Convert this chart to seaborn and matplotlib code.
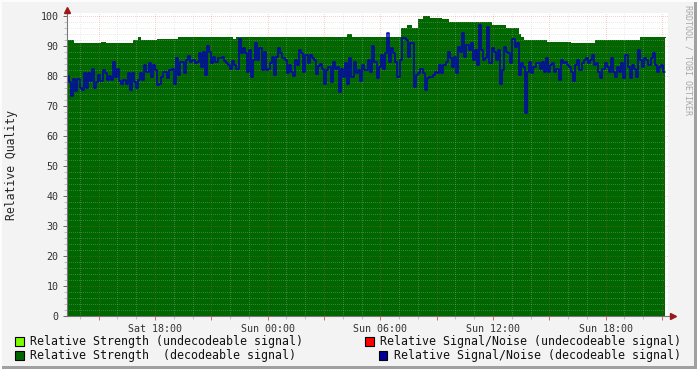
import numpy as np
import pandas as pd
import matplotlib
matplotlib.use("Agg")
import matplotlib.pyplot as plt
import matplotlib.dates as mdates
from matplotlib.patches import Rectangle
import seaborn as sns

# ---------------- data ----------------
start_time = "2007-03-03 13:19"
data_end_time = "2007-03-04 21:10"
axis_end_time = "2007-03-04 21:19"

# Relative Strength (decodeable signal): step changes (hours after start, value)
strength_hours = [0.0, 0.3, 1.8, 2.0, 3.5, 3.8, 3.9, 4.8, 5.9, 8.8, 9.0, 14.9, 15.1,
                  17.8, 18.1, 18.3, 18.7, 18.95, 19.3, 19.9, 20.3, 22.6, 23.3, 24.0,
                  24.1, 24.3, 25.5, 26.8, 28.1, 30.5, 31.85]
strength_values = [92, 91, 91.5, 91, 92, 93, 92, 92.5, 93, 92.5, 93, 94, 93,
                   96, 97, 96, 99, 100, 99.5, 99, 98, 97, 96, 94,
                   93, 92, 91.5, 91, 92, 93, 93]

# Relative Signal/Noise (decodeable signal): equally spaced samples
snr_part1 = [80, 78, 73.3, 79, 75, 79, 76, 75.3, 81, 76, 81, 78.4, 82.2, 76, 78, 80.3,
             78.4, 82, 81, 78.7, 80, 78.7, 84.8, 79.8, 82.5, 78.4, 77.5, 78.7, 77.5, 81,
             75.3, 81, 78, 76, 78.7, 81, 78.7, 83.7, 81.4, 84.2, 79.8, 83.7, 82, 77, 77.5,
             79.8, 81.4, 81.4, 79.2, 82, 82.5, 77.5, 85.9, 80.3, 84.8, 84.8, 81, 85.3, 86.7,
             84.8, 85.3, 84.2, 84.8, 87.6, 83, 88, 80.3, 90, 88, 84.2, 86.4, 84.8, 85.9]
snr_part2 = [85.9, 86.4, 85.1, 84.2, 83.7, 82.5, 85.1, 83.7, 82.5, 92.2, 87.6, 89.2, 87.6,
             81.4, 88.7, 79.8, 85.3, 91.1, 85.3, 89.2, 82, 88, 82, 82.5, 84.2, 86.4, 80.3,
             86.4, 89.2, 87.6, 85.9, 85.3, 80.9, 83.7, 81.4, 80, 85.3, 83.7, 88.7, 87.6,
             81.4, 87, 84.2, 87, 85.9, 85.3, 80.7, 83.3, 84, 82.5, 77.3, 82, 83.1, 78, 84.8,
             82.5, 83.1, 74.8, 82.5, 79.8, 84.2, 77.5, 86.1, 79.8, 84.8, 80.9, 82, 78.4,
             83.7, 82]
snr_part3 = [82, 85.3, 81.4, 90, 84.8, 79.2, 83.1, 87, 82.5, 87.6, 94.2, 84.8, 89.2, 87.6,
             84.8, 79.8, 85.3, 92.6, 92.6, 92, 86.4, 90.9, 90.9, 76.4, 80.3, 80.9, 82.5,
             80.9, 75.3, 79.2, 79.8, 79.8, 80.3, 81.4, 80.9, 83.7, 80.9, 83.7, 84.8, 88,
             85.9, 83.1, 86.4, 80.9, 89.8, 88, 94.2, 86.4, 90.3, 88.7, 90.9, 85.3, 88.7,
             83.7, 97, 88.7, 85.3, 85.9, 96.4, 84.2, 89.2, 88, 85.3, 88.7, 77.5, 82, 89.8,
             88, 87.6, 84.2, 92.2, 89.8, 90.9]
snr_part4 = [80.3, 84.2, 83.1, 67.6, 81.4, 84.8, 80.9, 83.1, 84.2, 84.4, 82.5, 84.8, 81.4,
             85.9, 81.4, 83.7, 84.2, 81.4, 82.5, 78.7, 85.3, 84.2, 84.8, 83.7, 83.1, 81.4,
             78.4, 83.7, 85.3, 82, 84.2, 85.3, 85.9, 84.2, 85.3, 87, 83.7, 84.2, 81.4, 79.2,
             82.5, 84.2, 83.1, 81.4, 85.9, 81.4, 79.8, 83.1, 81.4, 84.2, 79.2, 87, 83.1,
             79.2, 83.7, 82.5, 79.8, 88.7, 85.3, 83.1, 85.9, 85.3, 83.7, 85.9, 87.6, 83.7,
             81.4, 83.1, 83.7, 81.4]
snr_values = snr_part1 + snr_part2 + snr_part3 + snr_part4

legend_labels = ["Relative Strength (undecodeable signal)",
                 "Relative Strength  (decodeable signal)",
                 "Relative Signal/Noise (undecodeable signal)",
                 "Relative Signal/Noise (decodeable signal)"]
legend_colors = ["#7CFC00", "#006600", "#FF0000", "#000099"]

y_ticks = [0, 10, 20, 30, 40, 50, 60, 70, 80, 90, 100]

# ---------------- frames ----------------
t0 = pd.Timestamp(start_time)
t_end = pd.Timestamp(data_end_time)
strength_t = [t0 + pd.Timedelta(hours=h) for h in strength_hours]
df_strength = pd.DataFrame({"time": strength_t, "value": strength_values})

n = len(snr_values)
snr_t = pd.date_range(t0, t_end, periods=n + 1)
df_snr = pd.DataFrame({"time": snr_t, "value": snr_values + [snr_values[-1]]})

# ---------------- style ----------------
sns.set_style("white")
plt.rcParams["font.family"] = ["DejaVu Sans Mono", "DejaVu Sans"]
plt.rcParams["lines.antialiased"] = False

W, H = 697, 369
fig = plt.figure(figsize=(W / 100, H / 100), dpi=100, facecolor="#F3F3F3")
ax = fig.add_axes([67 / W, 1 - 316 / H, (668 - 67) / W, (316 - 13) / H])
ax.set_facecolor("white")

green = "#006600"
ax.fill_between(df_strength["time"], 0, df_strength["value"], step="post",
                color=green, linewidth=0, zorder=1, antialiased=False)
sns.lineplot(data=df_strength, x="time", y="value", drawstyle="steps-post",
             color=green, linewidth=0.5, estimator=None, ax=ax, zorder=1.1)
sns.lineplot(data=df_snr, x="time", y="value", drawstyle="steps-post",
             color="#0000B0", linewidth=1.08, estimator=None, ax=ax, zorder=3,
             antialiased=True, snap=True)

ax.set_xlim(t0, pd.Timestamp(axis_end_time))
ax.set_ylim(0, 101)
ax.set_xlabel("")
ax.set_ylabel("Relative Quality", fontsize=8.3)
ax.yaxis.set_label_coords(-(67 - 18) / (668 - 67), 0.5)

# ticks
ax.set_yticks(y_ticks)
ax.yaxis.set_minor_locator(matplotlib.ticker.MultipleLocator(2))
ax.xaxis.set_major_locator(mdates.HourLocator(byhour=range(0, 24, 3)))
ax.xaxis.set_minor_locator(mdates.HourLocator(interval=1))


def fmt(x, pos=None):
    d = mdates.num2date(x)
    return d.strftime("%a %H:%M") if d.hour % 6 == 0 else ""


ax.xaxis.set_major_formatter(matplotlib.ticker.FuncFormatter(fmt))
ax.tick_params(axis="both", which="major", labelsize=7.2, colors="#333333",
               length=3, width=0.7, pad=3)
ax.tick_params(axis="x", which="major", color="#E06060")
ax.tick_params(axis="y", which="major", color="#666666")
ax.tick_params(axis="both", which="minor", length=2, width=0.5, color="#AAAAAA")
ax.tick_params(axis="x", which="both", direction="out", bottom=True)
ax.tick_params(axis="y", which="both", direction="out", left=True)

# grid above the area, like rrdtool
ax.set_axisbelow(False)
ax.grid(which="minor", color="#C0C0C0", alpha=0.3, linewidth=0.5,
        linestyle=(0, (1.4, 2.0)))
ax.grid(which="major", color="#E05050", alpha=0.28, linewidth=0.5,
        linestyle=(0, (1.4, 2.0)))

for s in ["top", "right"]:
    ax.spines[s].set_visible(False)
for s in ["left", "bottom"]:
    ax.spines[s].set_color("#777777")
    ax.spines[s].set_linewidth(0.8)
    ax.spines[s].set_zorder(4)

# axis arrows
ax.plot([0], [1.01], marker="^", markersize=4, color="#9A1A1A", transform=ax.transAxes,
        clip_on=False, zorder=5, antialiased=True)
ax.plot([0, 0], [1.0, 1.01], color="#777777", lw=0.6, transform=ax.transAxes,
        clip_on=False)
ax.plot([1.0, 1.006], [0, 0], color="#777777", lw=0.6, transform=ax.transAxes,
        clip_on=False)
ax.plot([1.008], [0], marker=">", markersize=4, color="#9A1A1A", transform=ax.transAxes,
        clip_on=False, zorder=5, antialiased=True)

# legend (rrdtool style)
legend_pos = [(15, 341), (15, 355), (365, 341), (379, 355)]
for (px, py), lab, col in zip(legend_pos, legend_labels, legend_colors):
    fig.add_artist(Rectangle((px / W, 1 - (py + 4.5) / H), 8.5 / W, 9 / H,
                             transform=fig.transFigure, facecolor=col,
                             edgecolor="black", linewidth=0.8))
    fig.text((px + 15) / W, 1 - py / H, lab, fontsize=8.4, va="center", ha="left",
             color="#111111")

# watermark
fig.text(688 / W, 1 - 5 / H, "RRDTOOL / TOBI OETIKER", rotation=270, va="top",
         ha="center", fontsize=6, color="#A8A8A8")

# frame shading
fig.add_artist(Rectangle((694 / W, 0), 3 / W, 1, transform=fig.transFigure,
                         facecolor="#A0A0A0", edgecolor="none"))
fig.add_artist(Rectangle((0, 0), 1, 3 / H, transform=fig.transFigure,
                         facecolor="#A0A0A0", edgecolor="none"))
fig.add_artist(Rectangle((0, 0), 1.5 / W, 1, transform=fig.transFigure,
                         facecolor="#FCFCFC", edgecolor="none"))
fig.add_artist(Rectangle((0, 1 - 1.5 / H), 1, 1.5 / H, transform=fig.transFigure,
                         facecolor="#FCFCFC", edgecolor="none"))

fig.savefig("out.png", dpi=100, facecolor=fig.get_facecolor())
